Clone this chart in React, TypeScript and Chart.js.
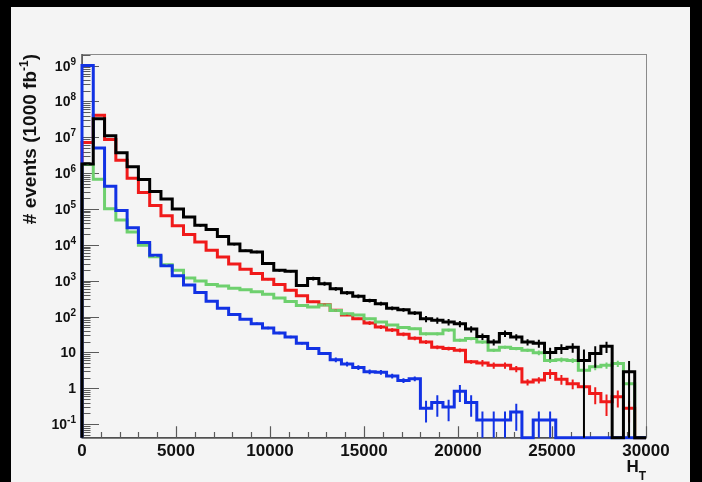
import React, { useEffect, useRef } from "react";
import { Chart, registerables } from "chart.js";

Chart.register(...registerables);

// Bin edges of the H_T histograms (50 bins of 600)
const binEdges = [
  0, 600, 1200, 1800, 2400, 3000, 3600, 4200, 4800, 5400, 6000, 6600, 7200, 7800, 8400, 9000, 9600,
  10200, 10800, 11400, 12000, 12600, 13200, 13800, 14400, 15000, 15600, 16200, 16800, 17400, 18000,
  18600, 19200, 19800, 20400, 21000, 21600, 22200, 22800, 23400, 24000, 24600, 25200, 25800, 26400,
  27000, 27600, 28200, 28800, 29400, 30000,
];

const seriesBlack = [
  1.8e6, 3.3e7, 1.1e7, 3.7e6, 1.5e6, 6.6e5, 3.1e5, 1.9e5, 1.0e5, 6.0e4,
  3.5e4, 2.7e4, 1.7e4, 1.05e4, 6.9e3, 6.3e3, 3.0e3, 1.95e3, 1.85e3, 740,
  1150, 830, 600, 460, 370, 280, 230, 170, 155, 126,
  87, 79, 71, 63, 45, 28, 19.5, 34, 27, 19.5,
  18, 10, 13, 14, 6, 9.3, 14.8, 0, 2.9, 0,
];
const seriesRed = [
  7.2e6, 4.1e7, 8.7e6, 2.3e6, 7.2e5, 2.9e5, 1.26e5, 6.5e4, 3.4e4, 1.95e4,
  1.2e4, 7.1e3, 4.6e3, 2.95e3, 2.1e3, 1.6e3, 1.1e3, 790, 540, 380,
  260, 215, 150, 110, 87, 66, 51, 42, 32, 25,
  19.5, 14, 12.9, 11.5, 5.5, 5.1, 4.4, 4.4, 3.5, 1.5,
  1.7, 2.6, 1.8, 1.35, 1.1, 0.72, 0.42, 0.58, 0.28, 0,
];
const seriesGreen = [
  1.74e6, 6.8e5, 1.02e5, 4.9e4, 2.3e4, 9.8e3, 4.7e3, 2.8e3, 1.95e3, 1.2e3,
  980, 790, 710, 620, 560, 490, 420, 330, 265, 205,
  186, 210, 148, 120, 110, 87, 71, 58, 50, 46,
  33, 33, 42, 22, 24.5, 19.5, 11.5, 14, 12.9, 11.5,
  9.8, 6, 6.3, 6, 3.2, 4, 4.4, 4.9, 1.35, 0,
];
const seriesBlue = [
  1e9, 5e6, 4.3e5, 9.1e4, 3.0e4, 1.17e4, 5.1e3, 2.6e3, 1.38e3, 760,
  470, 270, 170, 115, 85, 63, 48, 35, 27, 18,
  12.9, 9.3, 6.3, 4.8, 3.8, 2.9, 2.8, 2.2, 1.66, 1.86,
  0.28, 0.4, 0.3, 0.83, 0.4, 0.13, 0.13, 0.13, 0.22, 0,
  0.13, 0.13, 0, 0, 0, 0, 0, 0, 0, 0,
];

// Relative statistical errors per bin
const relErrBlack = [
  0.03, 0.03, 0.03, 0.03, 0.03, 0.03, 0.03, 0.03, 0.03, 0.03,
  0.08, 0.08, 0.08, 0.08, 0.08, 0.08, 0.08, 0.08, 0.08, 0.08,
  0.12, 0.12, 0.12, 0.12, 0.12, 0.12, 0.12, 0.12, 0.12, 0.12,
  0.2, 0.2, 0.2, 0.2, 0.2, 0.2, 0.2, 0.2, 0.2, 0.2,
  0.25, 0.35, 0.3, 0.3, 1.0, 0.6, 0.35, 0, 1.0, 0,
];
const relErrRed = [
  0.02, 0.02, 0.02, 0.02, 0.02, 0.02, 0.02, 0.02, 0.02, 0.02,
  0.02, 0.02, 0.02, 0.02, 0.02, 0.06, 0.06, 0.06, 0.06, 0.06,
  0.06, 0.06, 0.06, 0.06, 0.06, 0.12, 0.12, 0.12, 0.12, 0.12,
  0.12, 0.12, 0.12, 0.12, 0.12, 0.2, 0.2, 0.2, 0.2, 0.2,
  0.2, 0.3, 0.3, 0.3, 0.3, 0.5, 0.6, 0.5, 0.6, 0,
];
const relErrGreen = [
  0.02, 0.02, 0.02, 0.02, 0.02, 0.02, 0.02, 0.02, 0.02, 0.02,
  0.02, 0.02, 0.02, 0.02, 0.02, 0.02, 0.02, 0.02, 0.02, 0.02,
  0.06, 0.06, 0.06, 0.06, 0.06, 0.06, 0.06, 0.06, 0.06, 0.06,
  0.1, 0.1, 0.1, 0.1, 0.1, 0.1, 0.1, 0.1, 0.1, 0.1,
  0.15, 0.15, 0.15, 0.15, 0.5, 0.2, 0.2, 0.2, 0.35, 0,
];
const relErrBlue = [
  0.02, 0.02, 0.02, 0.02, 0.02, 0.02, 0.02, 0.02, 0.02, 0.02,
  0.02, 0.02, 0.02, 0.02, 0.02, 0.08, 0.08, 0.08, 0.08, 0.08,
  0.08, 0.08, 0.15, 0.15, 0.15, 0.15, 0.15, 0.15, 0.15, 0.15,
  0.6, 0.6, 0.6, 0.5, 0.6, 0.75, 0.75, 0.75, 0.7, 0,
  0.75, 0.75, 0, 0, 0, 0, 0, 0, 0, 0,
];

const xMajorTicks = [0, 5000, 10000, 15000, 20000, 25000, 30000];
const xTickLabels = ["0", "5000", "10000", "15000", "20000", "25000", "30000"];
const xMinorTicks = [
  1000, 2000, 3000, 4000, 6000, 7000, 8000, 9000, 11000, 12000, 13000, 14000, 16000, 17000, 18000,
  19000, 21000, 22000, 23000, 24000, 26000, 27000, 28000, 29000,
];
const yDecades = [-1, 0, 1, 2, 3, 4, 5, 6, 7, 8, 9];

const X_MIN = 0;
const X_MAX = 30000;
const Y_MIN = 0.042;
const Y_MAX = 2.1e9;

const FONT = '"Liberation Sans", Arial, Helvetica, sans-serif';

const SERIES = [
  { values: seriesRed, err: relErrRed, color: "#f01a1a", order: 4 },
  { values: seriesGreen, err: relErrGreen, color: "#6ed06e", order: 3 },
  { values: seriesBlue, err: relErrBlue, color: "#1232e4", order: 2 },
  { values: seriesBlack, err: relErrBlack, color: "#000000", order: 1 },
];

function histPoints(values: number[]) {
  const pts: { x: number; y: number }[] = [{ x: binEdges[0], y: Y_MIN }];
  values.forEach((v, i) => pts.push({ x: binEdges[i], y: v > 0 ? v : Y_MIN }));
  pts.push({ x: binEdges[binEdges.length - 1], y: Y_MIN });
  return pts;
}

const rootPlugin = {
  id: "rootStyle",
  beforeDatasetsDraw(chart: any) {
    const { ctx, chartArea: a, scales } = chart;
    const xs = scales.x;
    const ys = scales.y;
    ctx.save();
    // frame
    ctx.strokeStyle = "#8a8a8a";
    ctx.lineWidth = 1;
    ctx.strokeRect(a.left + 0.5, a.top + 0.5, a.right - a.left, a.bottom - a.top);
    // axis lines
    ctx.strokeStyle = "#505050";
    ctx.lineWidth = 1.5;
    ctx.beginPath();
    ctx.moveTo(a.left, a.top);
    ctx.lineTo(a.left, a.bottom);
    ctx.lineTo(a.right, a.bottom);
    ctx.stroke();
    // y ticks
    ctx.strokeStyle = "#5a5a5a";
    ctx.lineWidth = 1.2;
    ctx.beginPath();
    for (let k = -2; k <= 9; k++) {
      for (let m = 1; m <= 9; m++) {
        const v = m * Math.pow(10, k);
        if (v < Y_MIN || v > Y_MAX) continue;
        const y = Math.round(ys.getPixelForValue(v)) + 0.5;
        const len = m === 1 ? 17 : 8.5;
        ctx.moveTo(a.left, y);
        ctx.lineTo(a.left + len, y);
      }
    }
    // x ticks
    xMajorTicks.forEach((t) => {
      const x = Math.round(xs.getPixelForValue(t)) + 0.5;
      ctx.moveTo(x, a.bottom);
      ctx.lineTo(x, a.bottom - 11.5);
    });
    xMinorTicks.forEach((t) => {
      const x = Math.round(xs.getPixelForValue(t)) + 0.5;
      ctx.moveTo(x, a.bottom);
      ctx.lineTo(x, a.bottom - 5.7);
    });
    ctx.stroke();
    ctx.restore();
  },
  afterDatasetsDraw(chart: any) {
    const { ctx, chartArea: a, scales } = chart;
    const xs = scales.x;
    const ys = scales.y;
    ctx.save();
    ctx.beginPath();
    ctx.rect(a.left, a.top, a.right - a.left, a.bottom - a.top + 1);
    ctx.clip();
    ctx.lineWidth = 2;
    SERIES.forEach((s) => {
      ctx.strokeStyle = s.color;
      ctx.beginPath();
      s.values.forEach((v, i) => {
        const r = s.err[i];
        if (!(v > 0) || !(r > 0)) return;
        const lo = v * (1 - r);
        const hi = v * (1 + r);
        const yHi = ys.getPixelForValue(hi);
        const yLo = lo > Y_MIN ? ys.getPixelForValue(lo) : a.bottom;
        const xc = xs.getPixelForValue((binEdges[i] + binEdges[i + 1]) / 2);
        ctx.moveTo(xc, yHi);
        ctx.lineTo(xc, yLo);
      });
      ctx.stroke();
    });
    ctx.restore();
  },
  afterDraw(chart: any) {
    const { ctx, chartArea: a, scales } = chart;
    const xs = scales.x;
    const ys = scales.y;
    ctx.save();
    ctx.fillStyle = "#111";
    // x tick labels
    ctx.font = `bold 17px ${FONT}`;
    ctx.textAlign = "center";
    ctx.textBaseline = "alphabetic";
    xMajorTicks.forEach((t, i) => {
      ctx.fillText(xTickLabels[i], xs.getPixelForValue(t), a.bottom + 18.5);
    });
    // y tick labels
    const rightEdge = a.left - 6;
    yDecades.forEach((k) => {
      const y = ys.getPixelForValue(Math.pow(10, k));
      if (k === 0 || k === 1) {
        ctx.font = `bold 14px ${FONT}`;
        ctx.textAlign = "right";
        ctx.fillText(k === 0 ? "1" : "10", rightEdge, y + 5);
      } else {
        ctx.font = `bold 10px ${FONT}`;
        const sup = String(k);
        const sw = ctx.measureText(sup).width;
        ctx.textAlign = "left";
        ctx.fillText(sup, rightEdge - sw, y - 1);
        ctx.font = `bold 14px ${FONT}`;
        ctx.textAlign = "right";
        ctx.fillText("10", rightEdge - sw, y + 5);
      }
    });
    // x axis title H_T
    ctx.textAlign = "left";
    ctx.font = `bold 12px ${FONT}`;
    const tw = ctx.measureText("T").width;
    ctx.fillText("T", a.right - tw, a.bottom + 42.5);
    ctx.font = `bold 17px ${FONT}`;
    const hw = ctx.measureText("H").width;
    ctx.fillText("H", a.right - tw - hw, a.bottom + 34.5);
    // y axis title
    ctx.translate(a.left - 46, a.top);
    ctx.rotate(-Math.PI / 2);
    const main = "# events (1000 fb";
    const supT = "-1";
    const close = ")";
    ctx.font = `bold 19px ${FONT}`;
    const w1 = ctx.measureText(main).width;
    const w3 = ctx.measureText(close).width;
    ctx.font = `bold 12px ${FONT}`;
    const w2 = ctx.measureText(supT).width;
    let x0 = -(w1 + w2 + w3);
    ctx.font = `bold 19px ${FONT}`;
    ctx.fillText(main, x0, 0);
    x0 += w1;
    ctx.font = `bold 12px ${FONT}`;
    ctx.fillText(supT, x0, -8);
    x0 += w2;
    ctx.font = `bold 19px ${FONT}`;
    ctx.fillText(close, x0, 0);
    ctx.restore();
  },
};

export default function App() {
  const ref = useRef<HTMLCanvasElement>(null);
  useEffect(() => {
    const canvas = ref.current;
    if (!canvas) return;
    const chart = new Chart(canvas, {
      type: "line",
      data: {
        datasets: SERIES.map((s) => ({
          data: histPoints(s.values),
          borderColor: s.color,
          backgroundColor: s.color,
          borderWidth: 3,
          stepped: "before" as const,
          pointRadius: 0,
          fill: false,
          order: s.order,
          clip: 2,
          borderJoinStyle: "miter" as const,
        })),
      },
      options: {
        responsive: false,
        animation: false,
        devicePixelRatio: 1,
        layout: { padding: { left: 71, top: 47, right: 44, bottom: 44.3 } },
        scales: {
          x: { type: "linear", min: X_MIN, max: X_MAX, display: false },
          y: { type: "logarithmic", min: Y_MIN, max: Y_MAX, display: false },
        },
        plugins: { legend: { display: false }, tooltip: { enabled: false } },
        elements: { line: { tension: 0 } },
      },
      plugins: [rootPlugin],
    } as any);
    return () => chart.destroy();
  }, []);
  return (
    <div style={{ position: "fixed", left: 0, top: 0, width: 702, height: 482, background: "#000" }}>
      <canvas
        ref={ref}
        width={679}
        height={475}
        style={{ position: "absolute", left: 11, top: 7, width: 679, height: 475, background: "#f4f4f4" }}
      />
    </div>
  );
}
